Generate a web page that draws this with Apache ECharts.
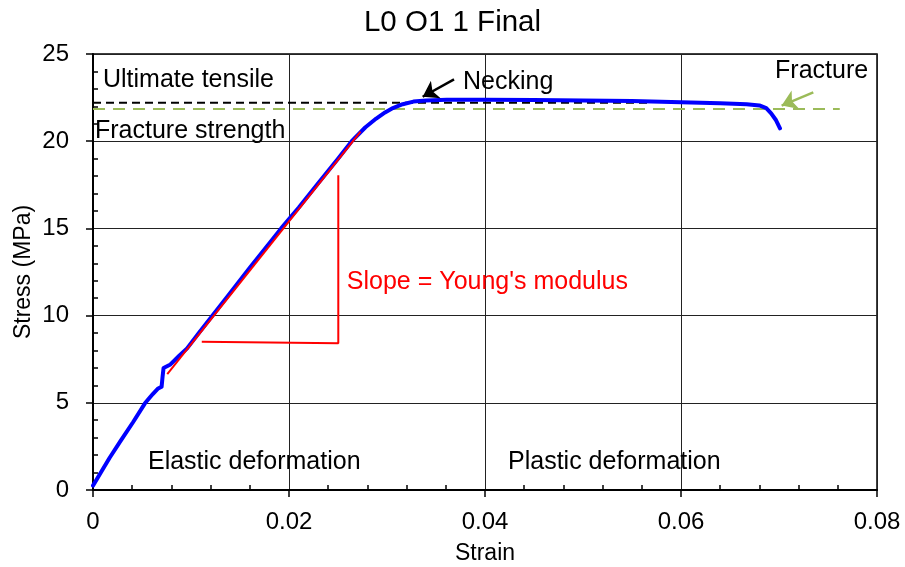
<!DOCTYPE html>
<html>
<head>
<meta charset="utf-8">
<title>L0 O1 1 Final</title>
<script src="https://cdn.jsdelivr.net/npm/echarts@6/dist/echarts.min.js"></script>
<style>
  html, body { margin: 0; padding: 0; background: #fff; }
  #main { width: 905px; height: 567px; }
</style>
</head>
<body>
<div id="main"></div>
<script>
// stress-strain curve
var strain = [0, 0.0008, 0.0017, 0.0028, 0.0041, 0.0053, 0.0061, 0.0066, 0.0070, 0.0071, 0.0072,
  0.0079, 0.0088, 0.0096, 0.0108, 0.0122, 0.0140, 0.0160, 0.0180, 0.0192, 0.0210, 0.0230,
  0.0250, 0.0264, 0.0278, 0.0289, 0.0298, 0.0306, 0.0316, 0.0327, 0.0340, 0.0361, 0.0400,
  0.0450, 0.0500, 0.0550, 0.0600, 0.0640, 0.0667, 0.0680, 0.0687, 0.0692, 0.0697, 0.0701];
var stress = [0.25, 1.0, 1.85, 2.8, 3.9, 4.97, 5.5, 5.8, 5.92, 6.5, 7.0,
  7.2, 7.7, 8.12, 9.0, 10.0, 11.3, 12.75, 14.15, 15.0, 16.2, 17.6,
  19.0, 20.0, 20.8, 21.3, 21.65, 21.9, 22.12, 22.27, 22.33, 22.37, 22.38,
  22.36, 22.33, 22.3, 22.24, 22.18, 22.12, 22.05, 21.9, 21.6, 21.2, 20.74];

// tangent for the elastic region + the slope bracket
var slopeLine = [[0.00758, 6.65], [0.0273, 20.55]];
var slopeBracket = [[0.0111, 8.5], [0.02503, 8.42], [0.02503, 18.05]];

// reference levels
var utsLine = [[0, 22.2], [0.057, 22.2]];
var fractureLine = [[0, 21.85], [0.0762, 21.85]];

// arrows [from, to]
var neckArrow = [[0.03684, 23.55], [0.03364, 22.55]];
var fractureArrow = [[0.0735, 22.8], [0.07027, 22.04]];

// texts placed in data units (left edge, vertical middle)
var noteText = ['Ultimate tensile', 'Fracture strength', 'Necking', 'Fracture',
  "Slope = Young's modulus", 'Elastic deformation', 'Plastic deformation'];
var noteX = [0.00102, 0.0002, 0.03776, 0.0696, 0.0259, 0.00561, 0.04235];
var noteY = [23.5, 20.6, 23.4, 24.0, 11.93, 1.6, 1.6];
var noteColor = ['#000', '#000', '#000', '#000', '#ff0000', '#000', '#000'];

var xTicks = [0, 0.02, 0.04, 0.06, 0.08];

var font = "'Liberation Sans', Arial, sans-serif";

var curve = strain.map(function (s, i) { return [s, stress[i]]; });
var notes = noteText.map(function (t, i) {
  return {
    value: [noteX[i], noteY[i]],
    name: t,
    label: { color: noteColor[i] }
  };
});

var chart = echarts.init(document.getElementById('main'), null, { renderer: 'canvas' });

chart.setOption({
  animation: false,
  backgroundColor: '#fff',
  textStyle: { fontFamily: font },
  title: {
    text: 'L0 O1 1 Final',
    left: 'center',
    top: 3,
    textStyle: { fontFamily: font, fontSize: 29.5, fontWeight: 'normal', color: '#000' }
  },
  grid: {
    left: 93, right: 28, top: 54, bottom: 77,
    show: true, borderColor: '#000', borderWidth: 1.5,
    containLabel: false,
    outerBoundsMode: 'none'
  },
  xAxis: [{
    type: 'value', min: 0, max: 0.08, interval: 0.02,
    name: 'Strain', nameLocation: 'middle', nameGap: 52, nameMoveOverlap: false,
    nameTextStyle: { fontFamily: font, fontSize: 23, color: '#000' },
    axisLine: { onZero: false, lineStyle: { color: '#000', width: 2 } },
    axisTick: { show: true, length: 7, lineStyle: { color: '#000', width: 1.5 } },
    axisLabel: {
      fontFamily: font, fontSize: 24, color: '#000', margin: 20,
      formatter: function (v) {
        var i = xTicks.findIndex(function (t) { return Math.abs(t - v) < 1e-9; });
        return i >= 0 ? String(xTicks[i]) : '';
      }
    },
    splitLine: { show: true, lineStyle: { color: '#222', width: 1 } }
  }, {
    // minor ticks, drawn inside
    type: 'value', min: 0, max: 0.08, interval: 0.02, position: 'bottom',
    axisLine: { show: false },
    axisTick: { show: false, inside: true },
    minorTick: { show: true, splitNumber: 5, length: 5, lineStyle: { color: '#000', width: 1.5 } },
    axisLabel: { show: false },
    splitLine: { show: false }
  }],
  yAxis: [{
    type: 'value', min: 0, max: 25, interval: 5,
    name: 'Stress (MPa)', nameLocation: 'middle', nameGap: 58, nameMoveOverlap: false,
    nameTextStyle: { fontFamily: font, fontSize: 23, color: '#000' },
    axisLine: { lineStyle: { color: '#000', width: 2 } },
    axisTick: { show: true, length: 7, lineStyle: { color: '#000', width: 1.5 } },
    axisLabel: { fontFamily: font, fontSize: 24, color: '#000', margin: 24 },
    splitLine: { show: true, lineStyle: { color: '#222', width: 1 } }
  }, {
    type: 'value', min: 0, max: 25, interval: 5, position: 'left',
    axisLine: { show: false },
    axisTick: { show: false, inside: true },
    minorTick: { show: true, splitNumber: 5, length: 5, lineStyle: { color: '#000', width: 1.5 } },
    axisLabel: { show: false },
    splitLine: { show: false }
  }],
  series: [
    {
      name: 'UTS', type: 'line', data: utsLine, symbol: 'none', silent: true,
      lineStyle: { color: '#000', width: 2, type: [8, 5] }, z: 2
    },
    {
      name: 'Fracture strength', type: 'line', data: fractureLine, symbol: 'none', silent: true,
      lineStyle: { color: '#9bbb59', width: 2, type: [12, 8] }, z: 2
    },
    {
      name: 'Stress', type: 'line', data: curve, symbol: 'none',
      lineStyle: { color: '#0000ff', width: 4, join: 'round', cap: 'round' }, z: 4
    },
    {
      name: 'Slope', type: 'line', data: slopeLine, symbol: 'none',
      lineStyle: { color: '#ff0000', width: 2 }, z: 5
    },
    {
      name: 'Bracket', type: 'line', data: slopeBracket, symbol: 'none',
      lineStyle: { color: '#ff0000', width: 2 }, z: 5
    },
    {
      name: 'Arrows', type: 'lines', coordinateSystem: 'cartesian2d',
      symbol: ['none', 'arrow'], symbolSize: 15,
      lineStyle: { opacity: 1, width: 2.5 },
      data: [
        { coords: neckArrow, lineStyle: { color: '#000', width: 2.5, opacity: 1 } },
        { coords: fractureArrow, lineStyle: { color: '#9bbb59', width: 2.5, opacity: 1 } }
      ],
      z: 6
    },
    {
      name: 'Notes', type: 'scatter', data: notes, symbolSize: 0, silent: true,
      itemStyle: { opacity: 1 },
      label: {
        show: true, position: 'right', distance: 0, opacity: 1,
        fontFamily: font, fontSize: 25, color: '#000',
        formatter: function (p) { return p.name; }
      },
      z: 7
    }
  ]
});
</script>
</body>
</html>
